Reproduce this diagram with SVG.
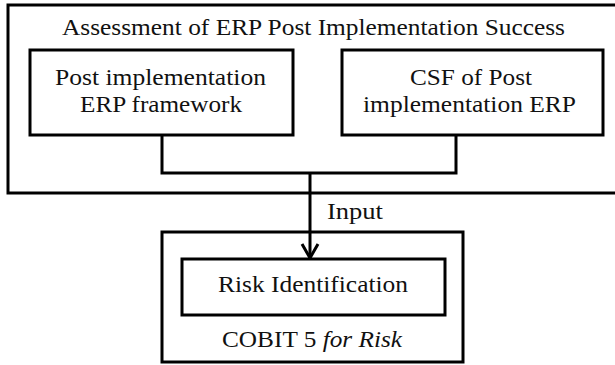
<svg xmlns="http://www.w3.org/2000/svg" width="615" height="365" viewBox="0 0 615 365">
<defs>
<style>
.box{fill:none;stroke:#000;stroke-width:3}
.ln{fill:none;stroke:#000;stroke-width:3}
</style>
<marker id="arr" viewBox="0 0 20 20" refX="18" refY="10" markerWidth="20" markerHeight="20" markerUnits="userSpaceOnUse" orient="auto">
<path d="M4,2 L18,10 L4,18" fill="none" stroke="#000" stroke-width="3"/>
</marker>
</defs>
<rect width="615" height="365" fill="#fff"/>
<g font-family="Liberation Serif, Times New Roman, serif" font-size="24" fill="#111" text-anchor="middle">
<g id="assessment">
<rect class="box" x="8" y="5" width="612" height="188"/>
<text x="313.5" y="35" textLength="503" lengthAdjust="spacingAndGlyphs">Assessment of ERP Post Implementation Success</text>
</g>
<g id="framework">
<rect class="box" x="30" y="50" width="263" height="85"/>
<text x="160.5" y="85" textLength="211" lengthAdjust="spacingAndGlyphs">Post implementation</text>
<text x="161" y="112" textLength="162" lengthAdjust="spacingAndGlyphs">ERP framework</text>
</g>
<g id="csf">
<rect class="box" x="342" y="50" width="261" height="85"/>
<text x="471" y="85" textLength="122" lengthAdjust="spacingAndGlyphs">CSF of Post</text>
<text x="469.5" y="112" textLength="213" lengthAdjust="spacingAndGlyphs">implementation ERP</text>
</g>
<g id="cobit">
<rect class="box" x="162" y="232" width="301" height="130"/>
<text x="312" y="347" textLength="180" lengthAdjust="spacingAndGlyphs">COBIT 5 <tspan font-style="italic">for Risk</tspan></text>
</g>
<g id="risk">
<rect class="box" x="182" y="259" width="263" height="56"/>
<text x="313" y="292" textLength="190" lengthAdjust="spacingAndGlyphs">Risk Identification</text>
</g>
<g id="connectors">
<polyline class="ln" points="162,135 162,173 456,173 456,135"/>
<line class="ln" x1="310" y1="173" x2="310" y2="258" marker-end="url(#arr)"/>
<text x="355" y="219" textLength="56" lengthAdjust="spacingAndGlyphs">Input</text>
</g>
</g>
</svg>
